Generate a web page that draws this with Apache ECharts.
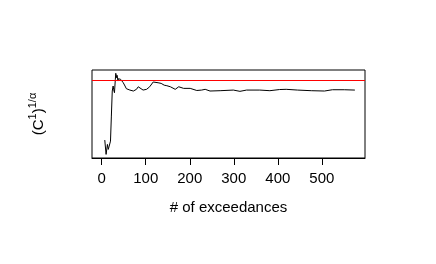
<!DOCTYPE html>
<html>
<head>
<meta charset="utf-8">
<script src="https://cdn.jsdelivr.net/npm/echarts@6/dist/echarts.min.js"></script>
<style>
  html, body { margin: 0; padding: 0; background: #fff; }
  #chart { width: 436px; height: 264px; }
</style>
</head>
<body>
<div id="chart"></div>
<script>
// number of exceedances and the estimate at each one
const exceedances = [7, 10, 13, 15, 17, 20, 22, 24, 26, 27, 29, 31, 32, 34, 35, 37, 38, 40, 43, 45,
  49, 53, 56, 64, 72, 75, 79, 83, 87, 94, 102, 109, 117, 120, 128, 135, 142, 148, 156, 167,
  175, 186, 201, 216, 227, 235, 246, 269, 299, 314, 329, 359, 382, 404, 419, 445, 476, 506,
  524, 551, 575];
const estimates = [0.441, 0.306, 0.400, 0.353, 0.384, 0.431, 0.667, 0.903, 0.950, 0.919, 0.887, 1.013, 1.070, 1.028, 1.051, 0.997, 1.019, 1.007, 1.013, 0.997,
  0.981, 0.950, 0.925, 0.912, 0.903, 0.893, 0.919, 0.943, 0.925, 0.912, 0.919, 0.943, 0.988, 0.991, 0.981, 0.975, 0.958, 0.953, 0.943, 0.919,
  0.943, 0.928, 0.928, 0.908, 0.912, 0.919, 0.903, 0.906, 0.912, 0.900, 0.912, 0.912, 0.906, 0.917, 0.919, 0.912, 0.906, 0.903,
  0.915, 0.915, 0.912];
const refLevel = 1.0;
const xTicks = [0, 100, 200, 300, 400, 500];

const font = 'Liberation Sans, Arial, sans-serif';
const chart = echarts.init(document.getElementById('chart'));

chart.setOption({
  animation: false,
  backgroundColor: '#fff',
  grid: {
    left: 92, right: 71, top: 70, bottom: 106,
    show: true, borderColor: '#000', borderWidth: 1, backgroundColor: 'transparent'
  },
  xAxis: {
    type: 'value',
    min: -22,
    max: 598,
    name: '# of exceedances',
    nameLocation: 'middle',
    nameGap: 42,
    nameTextStyle: { fontFamily: font, fontSize: 15, color: '#000' },
    axisLine: { show: true, onZero: false, lineStyle: { color: '#000', width: 1 } },
    axisTick: { show: true, length: 7, customValues: xTicks, lineStyle: { color: '#000' } },
    axisLabel: { customValues: xTicks, margin: 13, fontFamily: font, fontSize: 15, color: '#000' },
    splitLine: { show: false }
  },
  yAxis: {
    type: 'value',
    min: 0.272,
    max: 1.101,
    name: '{a|(C}{s|1}{a|)}{s|1/α}',
    nameLocation: 'middle',
    nameRotate: 90,
    nameGap: 46,
    nameTextStyle: {
      rich: {
        a: { fontFamily: font, fontSize: 15, color: '#000', lineHeight: 19, verticalAlign: 'bottom' },
        s: { fontFamily: font, fontSize: 11, color: '#000', lineHeight: 19, verticalAlign: 'top' }
      }
    },
    axisLine: { show: false },
    axisTick: { show: false },
    axisLabel: { show: false },
    splitLine: { show: false }
  },
  series: [{
    type: 'line',
    data: exceedances.map((x, i) => [x, estimates[i]]),
    showSymbol: false,
    lineStyle: { color: '#000', width: 1 },
    markLine: {
      silent: true,
      symbol: 'none',
      label: { show: false },
      lineStyle: { color: '#ff0000', width: 1, type: 'solid' },
      data: [{ yAxis: refLevel }]
    }
  }]
});
</script>
</body>
</html>
